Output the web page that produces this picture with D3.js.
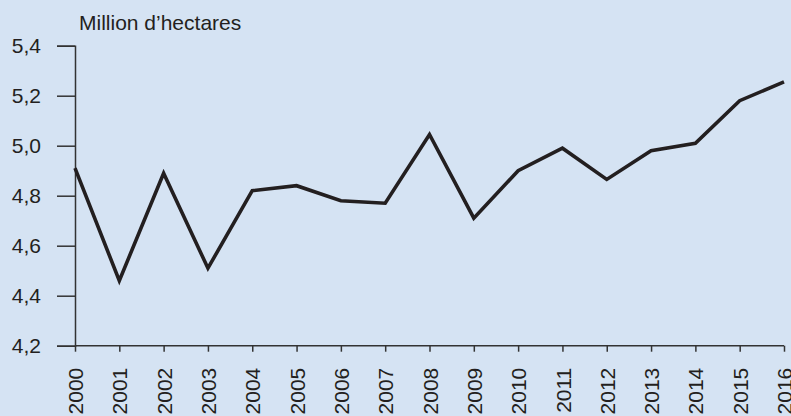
<!DOCTYPE html>
<html><head><meta charset="utf-8">
<script src="https://cdn.jsdelivr.net/npm/d3@7"></script>
<style>
html,body{margin:0;padding:0;background:#d5e3f3;}
svg{display:block;}
text{font-family:"Liberation Sans",Arial,sans-serif;fill:#231f20;}
</style></head>
<body>
<svg id="chart" width="791" height="416"></svg>
<script>
const years = [2000,2001,2002,2003,2004,2005,2006,2007,2008,2009,2010,2011,2012,2013,2014,2015,2016];
const values = [4.91,4.46,4.89,4.51,4.82,4.84,4.78,4.77,5.045,4.71,4.90,4.99,4.865,4.98,5.01,5.18,5.255];
const yTicks = [4.2,4.4,4.6,4.8,5.0,5.2,5.4];
const yTitle = "Million d\u2019hectares";

const svg = d3.select("#chart");
svg.append("rect").attr("width",791).attr("height",416).attr("fill","#d5e3f3");

const x = d3.scaleLinear().domain([2000,2016]).range([75,784]);
const y = d3.scaleLinear().domain([4.2,5.4]).range([345.7,45.7]);

const fmt = d => d3.format(".1f")(d).replace(".", ",");

const yAxis = svg.append("g").attr("transform","translate(75,0)")
  .call(d3.axisLeft(y).tickValues(yTicks).tickSize(18).tickPadding(16).tickFormat(fmt));
yAxis.selectAll("text").attr("font-size",21).style("font-family","'Liberation Sans',Arial,sans-serif").attr("fill","#231f20");
yAxis.selectAll("line,path").attr("stroke","#333").attr("stroke-width",1.5);

const xAxis = svg.append("g").attr("transform","translate(0,345.7)")
  .call(d3.axisBottom(x).tickValues(years).tickSize(6).tickFormat(d3.format("d")));
xAxis.select("path").attr("stroke","#333").attr("stroke-width",1.5).attr("d","M75,0H784");
xAxis.selectAll("line").attr("stroke","#333").attr("stroke-width",1.5);
xAxis.selectAll("text")
  .attr("font-size",21).style("font-family","'Liberation Sans',Arial,sans-serif").attr("fill","#231f20")
  .attr("text-anchor","end")
  .attr("transform","rotate(-90)")
  .attr("x",-22).attr("y",0).attr("dy","0.36em");

svg.append("text").attr("x",79).attr("y",30).attr("font-size",21).text(yTitle);

const line = d3.line().x((d,i)=>x(years[i])).y(d=>y(d));
svg.append("path").datum(values).attr("d",line)
  .attr("fill","none").attr("stroke","#231f20").attr("stroke-width",3.6)
  .attr("stroke-linejoin","miter");
</script>
</body></html>
